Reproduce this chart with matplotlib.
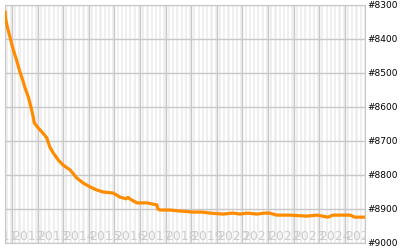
import numpy as np
import matplotlib
matplotlib.use("Agg")
import matplotlib.pyplot as plt

# ranking over time (decimal years)
jahre = [2011.73, 2011.75, 2011.82, 2011.92, 2012.05, 2012.18, 2012.31, 2012.42,
         2012.51, 2012.64, 2012.74, 2012.83, 2012.87, 2013.03, 2013.20, 2013.36,
         2013.48, 2013.61, 2013.81,
         2014.00, 2014.27, 2014.53, 2014.79, 2015.05, 2015.31, 2015.56, 2015.95,
         2016.22, 2016.45, 2016.53, 2016.62, 2016.88, 2017.27, 2017.66, 2017.70,
         2017.78, 2018.17, 2018.56, 2019.07, 2019.42, 2019.73, 2020.24, 2020.63,
         2020.91, 2021.18, 2021.57, 2021.88, 2022.05, 2022.35, 2022.86, 2023.52,
         2023.91, 2024.34, 2024.54, 2025.20, 2025.40, 2025.79]
rang = [8321, 8340, 8365, 8394, 8432, 8462, 8497, 8521,
        8544, 8571, 8600, 8629, 8647, 8662, 8676, 8691,
        8718, 8735, 8756,
        8771, 8785, 8809, 8824, 8835, 8844, 8850, 8853,
        8865, 8870, 8866, 8871, 8882, 8882, 8888, 8900,
        8903, 8903, 8906, 8909, 8909, 8912, 8915, 8912,
        8915, 8912, 8915, 8912, 8912, 8918, 8918, 8921,
        8918, 8924, 8918, 8918, 8924, 8924]

jahr_labels = list(range(2011, 2026))
y_ticks = [8300, 8400, 8500, 8600, 8700, 8800, 8900, 9000]

grau = "#c8c8c8"

fig = plt.figure(figsize=(4, 2.5), dpi=100)
ax = fig.add_axes([0.0125, 0.028, 0.9, 0.952])

x0, x1 = 2011.727, 2025.79
ax.set_xlim(x0, x1)
ax.set_ylim(9000, 8300)

# Streifen: jeder zweite Monat hell grau
for j in range(2011, 2026):
    for m in range(1, 12, 2):
        ax.axvspan(j + m / 12, j + (m + 1) / 12, color="#efefef", lw=0, zorder=0)

for j in jahr_labels:
    ax.axvline(j, color=grau, lw=1, zorder=1)
for t in y_ticks:
    ax.axhline(t, color=grau, lw=1, zorder=1)

for j in jahr_labels:
    ax.text(j, 8992, str(j), color="#cccccc", fontsize=9, ha="left",
            va="baseline", clip_on=True, zorder=2)

ax.plot(jahre, rang, color="#ff8c00", lw=2.3, zorder=3)

ax.set_xticks([])
ax.yaxis.tick_right()
ax.set_yticks(y_ticks)
ax.set_yticklabels(["#%d" % t for t in y_ticks], fontsize=6.5)
ax.tick_params(axis="y", length=0, pad=2)
for s in ax.spines.values():
    s.set_color(grau)

fig.savefig("out.png", dpi=100)
